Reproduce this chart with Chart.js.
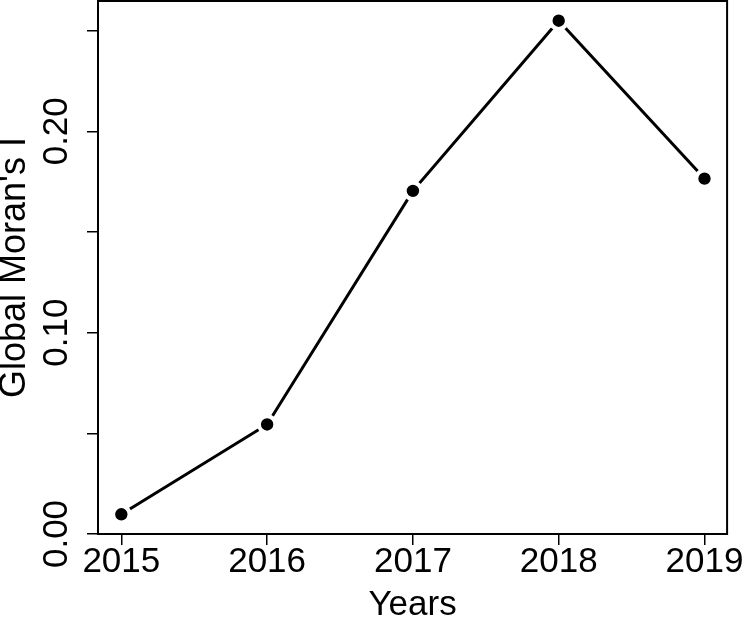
<!DOCTYPE html>
<html lang="en">
  <head>
    <meta charset="UTF-8" />
    <title>Global Moran's I by year</title>
    <style>
      html, body { margin: 0; padding: 0; background: #fff; }
      #wrap { width: 744px; height: 619px; }
    </style>
  </head>
  <body>
    <div id="wrap"><canvas id="myChart"></canvas></div>
    <script src="https://cdn.jsdelivr.net/npm/chart.js@4/dist/chart.umd.min.js"></script>
    <script>
      // data
      var years = [2015, 2016, 2017, 2018, 2019];
      var moranI = [0.0098, 0.0544, 0.1704, 0.2549, 0.1765];

      // y axis: tick marks every 0.05, labels only on some of them
      var yTicks = [0, 0.05, 0.10, 0.15, 0.20, 0.25];
      var yLabelValues = [0, 0.10, 0.20];
      var yLabels = ["0.00", "0.10", "0.20"];

      var fontFamily = '"Liberation Sans", Arial, Helvetica, sans-serif';

      // box round the plot + rotated y tick labels (R style)
      var framePlugin = {
        id: "frame",
        afterDraw: function (chart) {
          var ctx = chart.ctx;
          var a = chart.chartArea;
          var y = chart.scales.y;
          ctx.save();
          ctx.strokeStyle = "#000";
          ctx.lineWidth = 2;
          ctx.strokeRect(a.left, a.top, a.right - a.left, a.bottom - a.top);
          ctx.fillStyle = "#000";
          ctx.font = "35px " + fontFamily;
          ctx.textAlign = "center";
          ctx.textBaseline = "alphabetic";
          for (var i = 0; i < yLabelValues.length; i++) {
            ctx.save();
            ctx.translate(a.left - 31, y.getPixelForValue(yLabelValues[i]));
            ctx.rotate(-Math.PI / 2);
            ctx.fillText(yLabels[i], 0, 0);
            ctx.restore();
          }
          ctx.restore();
        }
      };

      var ctx = document.getElementById("myChart").getContext("2d");
      var myChart = new Chart(ctx, {
        type: "line",
        data: {
          datasets: [
            {
              data: years.map(function (yr, i) { return { x: yr, y: moranI[i] }; }),
              borderColor: "#000",
              borderWidth: 3,
              tension: 0,
              pointRadius: 8.3,
              pointBackgroundColor: "#000",
              pointBorderColor: "#fff",
              pointBorderWidth: 4.2,
              pointHoverRadius: 8.3
            }
          ]
        },
        options: {
          responsive: true,
          maintainAspectRatio: false,
          animation: false,
          events: [],
          layout: { autoPadding: false, padding: { top: 1, right: 16, left: 0, bottom: 0 } },
          plugins: {
            legend: { display: false },
            tooltip: { enabled: false }
          },
          scales: {
            x: {
              type: "linear",
              min: 2014.84,
              max: 2019.155,
              afterBuildTicks: function (scale) {
                scale.ticks = years.map(function (v) { return { value: v }; });
              },
              afterFit: function (scale) { scale.height = 85; },
              grid: {
                drawOnChartArea: false,
                drawTicks: true,
                tickLength: 11,
                color: "#000",
                lineWidth: 1.5
              },
              border: { display: true, color: "#000", width: 2 },
              ticks: {
                color: "#000",
                padding: 0,
                maxRotation: 0,
                font: { family: fontFamily, size: 35, lineHeight: 1 },
                callback: function (v) { return String(v); }
              },
              title: {
                display: true,
                text: "Years",
                color: "#000",
                padding: 0,
                font: { family: fontFamily, size: 35, lineHeight: 0.8 }
              }
            },
            y: {
              min: 0,
              max: 0.2647,
              afterBuildTicks: function (scale) {
                scale.ticks = yTicks.map(function (v) { return { value: v }; });
              },
              afterFit: function (scale) { scale.width = 98; },
              grid: {
                drawOnChartArea: false,
                drawTicks: true,
                tickLength: 11,
                color: "#000",
                lineWidth: 1.5
              },
              border: { display: true, color: "#000", width: 2 },
              ticks: { display: false },
              title: {
                display: true,
                text: "Global Moran's I",
                color: "#000",
                padding: 0,
                font: { family: fontFamily, size: 36, lineHeight: 0.84 }
              }
            }
          }
        },
        plugins: [framePlugin]
      });
    </script>
  </body>
</html>
